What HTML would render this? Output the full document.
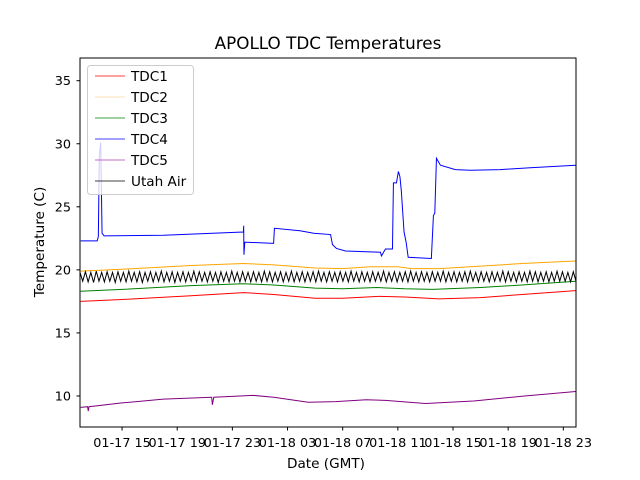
<!DOCTYPE html>
<html><head><meta charset="utf-8"><style>
body{margin:0;background:#fff}
svg{font-family:"DejaVu Sans","Liberation Sans",sans-serif;display:block}
</style></head><body>
<svg id="c" width="640" height="480">
<rect width="640" height="480" fill="#fff"/>
<text x="328" y="49" font-size="16.8" text-anchor="middle">APOLLO TDC Temperatures</text>
<g id="plot"></g>
<g id="axes"></g>
<text x="326" y="468" font-size="13.6" text-anchor="middle">Date (GMT)</text>
<text transform="translate(44,242) rotate(-90)" font-size="13.6" text-anchor="middle">Temperature (C)</text>
</svg>
<script>
const yTicks=[10,15,20,25,30,35];
const xTickHours=[15,19,23,27,31,35,39,43,47];
const xTickLabels=["01-17 15","01-17 19","01-17 23","01-18 03","01-18 07","01-18 11","01-18 15","01-18 19","01-18 23"];
const seriesNames=["TDC1","TDC2","TDC3","TDC4","TDC5","Utah Air"];
const legendColors=["red","#ffd9a0","green","blue","#b040b0","black"];
const tdc1=[[12,17.5],[15,17.65],[20,17.95],[23.8,18.2],[26,18.05],[29,17.75],[31,17.75],[33.6,17.9],[35.5,17.85],[38,17.7],[41,17.8],[44,18.05],[47.9,18.35]];
const tdc2=[[12,19.9],[15,20.05],[20,20.35],[23.8,20.5],[26,20.4],[29,20.15],[31,20.1],[33,20.25],[35,20.25],[36,20.1],[38,20.1],[41,20.3],[44,20.5],[47.9,20.7]];
const tdc3=[[12,18.3],[15,18.45],[20,18.75],[23.8,18.9],[26,18.8],[29,18.55],[31,18.5],[33.5,18.6],[35.5,18.5],[37.5,18.45],[41,18.6],[44,18.8],[47.9,19.1]];
const tdc4=[[12,22.3],[13.2,22.3],[13.28,22.65],[13.35,29.0],[13.45,30.1],[13.55,22.9],[13.7,22.7],[18,22.75],[23.8,23.0],[23.82,23.5],[23.84,21.2],[23.9,22.2],[25.99,22.1],[26.05,23.3],[27.9,23.1],[28.9,22.9],[30.12,22.8],[30.26,22.0],[30.55,21.7],[31.2,21.5],[33.74,21.4],[33.81,21.1],[34.1,21.65],[34.61,21.65],[34.68,26.9],[34.9,26.9],[35.04,27.8],[35.15,27.4],[35.25,26.3],[35.45,23.0],[35.6,22.2],[35.75,21.0],[37.43,20.9],[37.58,24.3],[37.68,24.5],[37.8,28.85],[38.09,28.3],[39.17,27.95],[40.26,27.9],[42.43,27.95],[44.6,28.1],[47.9,28.3]];
const tdc5=[[12,9.1],[12.5,9.15],[12.55,8.8],[12.6,9.15],[15,9.45],[18,9.75],[21.5,9.9],[21.55,9.3],[21.65,9.9],[24.5,10.05],[26,9.9],[28.5,9.5],[30.5,9.55],[32.7,9.7],[34.1,9.65],[37,9.4],[40.5,9.6],[44.2,10.0],[47.9,10.35]];
const utahAir=[19.8,19.1,19.85,19.05,19.8,19.0,19.9,19.1,19.8,19.05,19.85,19.1,19.8,19.0,19.85,19.1,19.8,19.05,19.9,19.1,19.8,19.05,19.85,19.0,19.8,19.1,19.85,19.05,19.8,19.1,19.9,19.05,19.8,19.1,19.85,19.0,19.8,19.1,19.85,19.05,19.8,19.1,19.9,19.05,19.85,19.1,19.8,19.05,19.85,19.1,19.8,19.0,19.85,19.1,19.8,19.05,19.9,19.1,19.8,19.05,19.85,19.1,19.8,19.05,19.85,19.1,19.8,19.05,19.9,19.1,19.85,19.05,19.8,19.1,19.85,19.05,19.8,19.1,19.9,19.05,19.8,19.1,19.85,19.05,19.8,19.1,19.85,19.05,19.9,19.1,19.8,19.05,19.85,19.1,19.8,19.05,19.85,19.1,19.8,19.05,19.9,19.1,19.8,19.05,19.85,19.1,19.8,19.05,19.85,19.1,19.8,19.1,19.9,19.05,19.8,19.1,19.85,19.05,19.8,19.1,19.85,19.05,19.9,19.1,19.8,19.05,19.85,19.1,19.8,19.05,19.85,19.1,19.8,19.1,19.9,19.05,19.8,19.1,19.85,19.05,19.8,19.1,19.85,19.05,19.9,19.1,19.8,19.05,19.85,19.1,19.8,19.05,19.85,19.1,19.8,19.1,19.9,19.05,19.85,19.1,19.8,19.05,19.85,19.1,19.8,19.05,19.9,19.1,19.85,19.05,19.8,19.1,19.85,19.05,19.8,19.1,19.9,19.1,19.85,19.1,19.8,19.05,19.85,19.1];
const L=80,R=576,T=58,B=427,x0=11.95,x1=47.92,y0=7.54,y1=36.8;
const X=h=>L+(h-x0)/(x1-x0)*(R-L);
const Y=v=>B-(v-y0)/(y1-y0)*(B-T);
const NS="http://www.w3.org/2000/svg";
const plot=document.getElementById('plot'),axes=document.getElementById('axes');
function mk(tag,attrs,parent){const e=document.createElementNS(NS,tag);for(const k in attrs)e.setAttribute(k,attrs[k]);parent.appendChild(e);return e;}
const clip=mk('clipPath',{id:'cp'},plot);mk('rect',{x:L,y:T,width:R-L,height:B-T},clip);
const g=mk('g',{'clip-path':'url(#cp)'},plot);
function line(pts,color,name){
  const p=mk('polyline',{points:pts.map(q=>X(q[0]).toFixed(2)+','+Y(q[1]).toFixed(2)).join(' '),fill:'none',stroke:color,'stroke-width':1},g);
  
  
}
line(tdc1,'red','series-tdc1');
line(tdc3,'green','series-tdc3');
line(tdc5,'purple','series-tdc5');
line(tdc2,'orange','series-tdc2');
line(utahAir.map((v,i)=>[x0+(x1-x0)*i/(utahAir.length-1),v]),'black','series-utah-air');
line(tdc4,'blue','series-tdc4');
const fr=mk('rect',{x:L,y:T,width:R-L,height:B-T,fill:'none',stroke:'#000','stroke-width':1},axes);


yTicks.forEach(v=>{
  const y=Y(v);
  mk('line',{x1:L-3.5,x2:L,y1:y,y2:y,stroke:'#000'},axes);
  const t=mk('text',{x:L-9,y:y+4.5,'font-size':12.8,'text-anchor':'end'},axes);t.textContent=v;
  
  
});
xTickHours.forEach((h,i)=>{
  const x=X(h);
  mk('line',{x1:x,x2:x,y1:B,y2:B+3.5,stroke:'#000'},axes);
  const t=mk('text',{x:x,y:B+20,'font-size':12.8,'text-anchor':'middle'},axes);t.textContent=xTickLabels[i];
  
  
});
const lg=mk('g',{},axes);


mk('rect',{x:87.5,y:65.5,width:106,height:129,rx:3,fill:'#fff','fill-opacity':0.8,stroke:'#ccc'},lg);
seriesNames.forEach((n,i)=>{
  const y=76+i*21;
  mk('line',{x1:95,x2:125,y1:y,y2:y,stroke:legendColors[i],'stroke-width':0.8},lg);
  const t=mk('text',{x:131,y:y+5,'font-size':13.6},lg);t.textContent=n;
  
  
});
</script>
</body></html>
